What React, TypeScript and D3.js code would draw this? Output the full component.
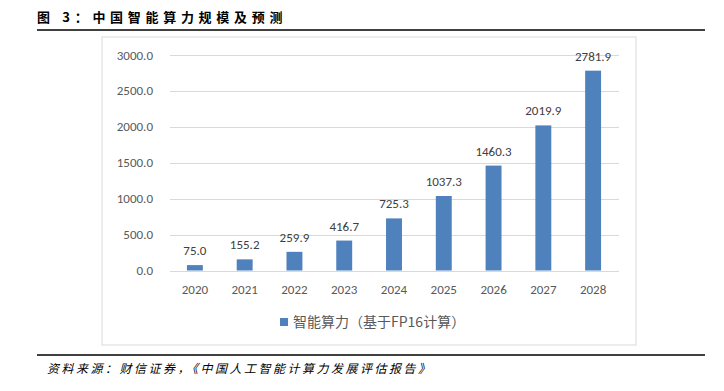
import React from 'react';
import * as d3 from 'd3';

const years = ['2020', '2021', '2022', '2023', '2024', '2025', '2026', '2027', '2028'];
const values = [75.0, 155.2, 259.9, 416.7, 725.3, 1037.3, 1460.3, 2019.9, 2781.9];
const yTicks = [0, 500, 1000, 1500, 2000, 2500, 3000];
const seriesName = '智能算力（基于FP16计算）';
const title = '图 3：中国智能算力规模及预测';
const source = '资料来源：财信证券，《中国人工智能计算力发展评估报告》';

const W = 724;
const H = 391;
const latin = 'Carlito, "Liberation Sans", Arial, sans-serif';
const cjk = '"Noto Sans CJK SC", sans-serif';

const App: React.FC = () => {
  const x = d3.scaleBand().domain(years).range([170, 618]).paddingInner(0.68).paddingOuter(0.34);
  const y = d3.scaleLinear().domain([0, 3000]).range([270.5, 55]);

  return (
    <svg width={W} height={H} style={{ position: 'absolute', left: 0, top: 0 }}>
      <rect width={W} height={H} fill="#fff" />
      <text x={37} y={22} fontFamily={cjk} fontWeight="bold" fontSize={13} letterSpacing={4.7} fill="#000">{title}</text>
      <line x1={37} x2={705} y1={30} y2={30} stroke="#000" strokeWidth={1.5} />
      <rect x={102} y={37} width={534} height={308} fill="none" stroke="#d9d9d9" strokeWidth={1} />

      {yTicks.map(t => (
        <g key={t}>
          <line x1={170} x2={619} y1={Math.round(y(t)) + 0.5} y2={Math.round(y(t)) + 0.5} stroke="#d9d9d9" strokeWidth={1} />
          <text x={153} y={y(t)} dy="0.35em" textAnchor="end" fontFamily={latin} fontSize={13} fill="#595959">
            {t.toFixed(1)}
          </text>
        </g>
      ))}

      {years.map((yr, i) => (
        <g key={yr}>
          <rect x={x(yr)} y={y(values[i])} width={x.bandwidth()} height={y(0) - y(values[i])} fill="#4f81bd" />
          <text x={x(yr)! + x.bandwidth() / 2} y={y(values[i]) - 10} textAnchor="middle" fontFamily={latin} fontSize={13} fill="#404040">
            {values[i].toFixed(1)}
          </text>
          <text x={x(yr)! + x.bandwidth() / 2} y={294} textAnchor="middle" fontFamily={latin} fontSize={13} fill="#595959">
            {yr}
          </text>
        </g>
      ))}

      <rect x={280} y={318} width={8} height={8} fill="#4f81bd" />
      <text x={293} y={327} fontFamily={cjk} fontSize={14} fill="#595959">{seriesName}</text>

      <line x1={37} x2={705} y1={355} y2={355} stroke="#000" strokeWidth={1.5} />
      <text x={47} y={373} fontFamily={cjk} fontStyle="italic" fontSize={12} letterSpacing={2.5} fill="#000">{source}</text>
    </svg>
  );
};

export default App;
